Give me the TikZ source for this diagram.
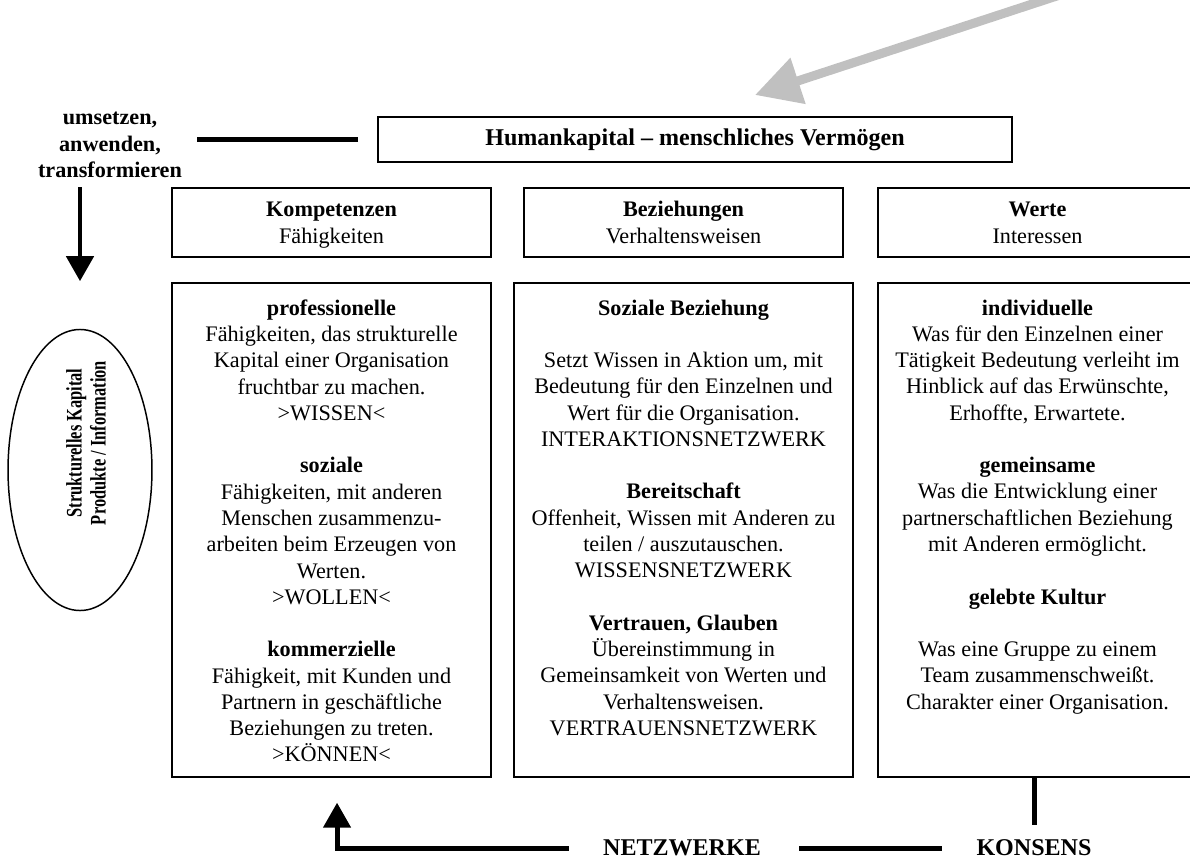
\documentclass[tikz,border=0pt]{standalone}
\usepackage{fontspec}
\setmainfont{Liberation Serif}
\usetikzlibrary{arrows.meta,shapes.geometric}
\definecolor{arrowgrey}{RGB}{192,192,192}

\begin{document}
\begin{tikzpicture}[
    x=0.5405pt, y=-0.5405pt,
    font=\fontsize{12}{14.2}\selectfont,
    every node/.style={align=center},
    head box/.style={draw, line width=0.8pt, minimum width=172.4pt, minimum height=37.3pt, inner sep=0pt, text height=24pt, text depth=1.8pt},
    body box/.style={draw, line width=0.8pt, minimum width=172.4pt, minimum height=267pt, inner sep=0pt},
    body text/.style={anchor=north, inner sep=0pt, yshift=-9.2pt},
    big label/.style={inner sep=0pt, font=\fontsize{13}{15}\selectfont\bfseries},
    bold line/.style={draw, line width=2.7pt},
    fat arrow/.style={draw, line width=2.7pt, -{Triangle[length=13.5pt, width=14.5pt]}},
    grey arrow/.style={draw=arrowgrey, line width=4.9pt, -{Triangle[length=24.5pt, width=25pt]}},
    ]
\clip (0,0) rectangle (1190,860);
% top
\node[draw, line width=0.8pt, minimum width=342.7pt, minimum height=24.3pt, inner sep=0pt, font=\fontsize{13}{15}\selectfont\bfseries] (hk) at (695,139.5) {Humankapital -- menschliches Vermögen};
\coordinate (greyStart) at (1075,-10);
\coordinate (greyTip) at (755,95);
\draw[grey arrow] (greyStart) -- (greyTip);
\node[inner sep=0pt, font=\fontsize{12}{14.2}\selectfont\bfseries] (umsetzen) at (110,145) {umsetzen,\\anwenden,\\transformieren};
\draw[bold line, line width=3.2pt, shorten <=10.3pt, shorten >=8.1pt] (hk.west) -- (umsetzen.east |- hk.west);
% header row
\node[head box] (kompH) at (331.5,222.5) {\textbf{Kompetenzen}\\Fähigkeiten};
\node[head box] (bezH) at (683.5,222.5) {\textbf{Beziehungen}\\Verhaltensweisen};
\node[head box] (werteH) at (1037.5,222.5) {\textbf{Werte}\\Interessen};
% left ellipse
\node[draw, ellipse, line width=0.8pt, minimum width=77.8pt, minimum height=151.9pt, inner sep=0pt] (struct) at (80,470) {};
\node[rotate=90, xscale=0.74, inner sep=0pt, font=\fontsize{12}{13}\selectfont\bfseries] (structText) at (86,443) {Strukturelles Kapital\\Produkte / Information};
\draw[fat arrow, shorten >=25.7pt] (struct.north |- kompH.north) -- (struct.north);
% body boxes
\node[body box] (kompC) at (331.5,530) {};
\node[body box, minimum width=183.2pt] (bezC) at (683.5,530) {};
\node[body box] (werteC) at (1037.5,530) {};
\node[body text] (kompT) at (kompC.north) {\textbf{professionelle}\\
Fähigkeiten, das strukturelle\\
Kapital einer Organisation\\
fruchtbar zu machen.\\
>WISSEN<\\[14.2pt]
\textbf{soziale}\\
Fähigkeiten, mit anderen\\
Menschen zusammenzu-\\
arbeiten beim Erzeugen von\\
Werten.\\
>WOLLEN<\\[14.2pt]
\textbf{kommerzielle}\\
Fähigkeit, mit Kunden und\\
Partnern in geschäftliche\\
Beziehungen zu treten.\\
>KÖNNEN<};
\node[body text] (bezT) at (bezC.north) {\textbf{Soziale Beziehung}\\[14.2pt]
Setzt Wissen in Aktion um, mit\\
Bedeutung für den Einzelnen und\\
Wert für die Organisation.\\
INTERAKTIONSNETZWERK\\[14.2pt]
\textbf{Bereitschaft}\\
Offenheit, Wissen mit Anderen zu\\
teilen / auszutauschen.\\
WISSENSNETZWERK\\[14.2pt]
\textbf{Vertrauen, Glauben}\\
Übereinstimmung in\\
Gemeinsamkeit von Werten und\\
Verhaltensweisen.\\
VERTRAUENSNETZWERK};
\node[body text] (werteT) at (werteC.north) {\textbf{individuelle}\\
Was für den Einzelnen einer\\
Tätigkeit Bedeutung verleiht im\\
Hinblick auf das Erwünschte,\\
Erhoffte, Erwartete.\\[14.2pt]
\textbf{gemeinsame}\\
Was die Entwicklung einer\\
partnerschaftlichen Beziehung\\
mit Anderen ermöglicht.\\[14.2pt]
\textbf{gelebte Kultur}\\[14.2pt]
Was eine Gruppe zu einem\\
Team zusammenschweißt.\\
Charakter einer Organisation.};
% bottom
\node[big label] (netz) at (682,848) {NETZWERKE};
\node[big label] (kons) at (1034,848) {KONSENS};
\draw[fat arrow, shorten <=18.4pt, shorten >=13.5pt] (netz.west) -| ([xshift=3pt]kompC.south);
\draw[bold line, shorten <=20.5pt, shorten >=18.4pt] (netz.east) -- (kons.west);
\draw[bold line, shorten <=8pt] (kons.north) -- (kons.north |- werteC.south);
\end{tikzpicture}
\end{document}
